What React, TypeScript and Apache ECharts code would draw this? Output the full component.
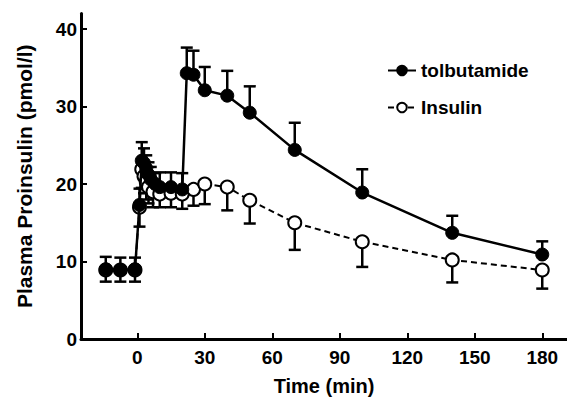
import React, { useEffect, useRef } from "react";
import * as echarts from "echarts";

// Tolbutamide (filled circles): time, mean, upper error bar end
const tolbTime = [-14, -7.5, -1, 1, 2, 3, 4, 5, 6, 8, 10, 15, 20, 22, 25, 30, 40, 50, 70, 100, 140, 180];
const tolbMean = [9.0, 8.9, 9.0, 17.3, 23.0, 22.7, 22.0, 21.2, 20.6, 20.0, 19.6, 19.6, 19.3, 34.3, 34.1, 32.1, 31.4, 29.2, 24.4, 18.9, 13.7, 10.9];
const tolbUpper = [10.6, 10.5, 10.5, 19.4, 25.4, 24.6, 23.7, 22.8, 22.2, 21.4, 21.5, 21.5, 21.4, 37.6, 37.2, 35.1, 34.6, 32.6, 27.9, 21.9, 15.9, 12.6];

// Insulin (open circles): time, mean, lower error bar end
const insTime = [-14, -7.5, -1, 1, 2, 3, 4, 5, 7, 10, 15, 20, 25, 30, 40, 50, 70, 100, 140, 180];
const insMean = [8.9, 8.9, 8.9, 17.0, 21.9, 21.0, 20.3, 19.6, 19.0, 18.7, 18.8, 18.7, 19.3, 20.0, 19.6, 17.9, 15.0, 12.55, 10.2, 8.9];
const insLower = [7.4, 7.4, 7.4, 14.5, 19.5, 18.8, 18.0, 17.5, 17.0, 17.0, 17.0, 16.8, 17.2, 17.4, 16.6, 14.9, 11.5, 9.3, 7.3, 6.5];

const xTicks = [0, 30, 60, 90, 120, 150, 180];
const yTicks = [0, 10, 20, 30, 40];

const FONT = "Liberation Sans";

export default function App() {
  const ref = useRef<HTMLDivElement>(null);
  useEffect(() => {
    if (!ref.current) return;
    const chart = echarts.init(ref.current, undefined, { renderer: "svg" });

    const errRender = (params: any, api: any) => {
      const x = api.value(0);
      const m = api.value(1);
      const e = api.value(2);
      const p1 = api.coord([x, m]);
      const p2 = api.coord([x, e]);
      const cap = 6;
      return {
        type: "group",
        children: [
          { type: "line", shape: { x1: p1[0], y1: p1[1], x2: p2[0], y2: p2[1] }, style: { stroke: "#000", lineWidth: 2.5 } },
          { type: "line", shape: { x1: p2[0] - cap, y1: p2[1], x2: p2[0] + cap, y2: p2[1] }, style: { stroke: "#000", lineWidth: 2.5 } },
        ],
      };
    };

    const option: any = {
      animation: false,
      backgroundColor: "#fff",
      grid: { left: 81, right: 0, top: 13.5, bottom: 61, containLabel: false, outerBoundsMode: "none" },
      legend: {
        orient: "vertical",
        left: 382,
        top: 56,
        itemWidth: 28,
        itemHeight: 12,
        itemGap: 18,
        data: ["tolbutamide", "Insulin"],
        textStyle: { fontFamily: FONT, fontWeight: "bold", fontSize: 19, color: "#000" },
      },
      xAxis: {
        type: "value",
        min: -25,
        max: 191,
        name: "Time (min)",
        nameLocation: "middle",
        nameGap: 37,
        nameTextStyle: { fontFamily: FONT, fontWeight: "bold", fontSize: 20, color: "#000" },
        axisLine: { show: true, onZero: false, lineStyle: { color: "#000", width: 3 } },
        axisTick: { show: true, inside: true, length: 6, customValues: xTicks, lineStyle: { color: "#000", width: 2 } },
        axisLabel: { customValues: xTicks, margin: 9, fontFamily: FONT, fontWeight: "bold", fontSize: 19, color: "#000" },
        splitLine: { show: false },
      },
      yAxis: {
        type: "value",
        min: 0,
        max: 42,
        name: "Plasma Proinsulin (pmol/l)",
        nameLocation: "middle",
        nameGap: 46,
        nameRotate: 90,
        nameTextStyle: { fontFamily: FONT, fontWeight: "bold", fontSize: 21, color: "#000" },
        axisLine: { show: true, onZero: false, lineStyle: { color: "#000", width: 3 } },
        axisTick: { show: true, inside: true, length: 6, customValues: yTicks, lineStyle: { color: "#000", width: 2 } },
        axisLabel: { customValues: yTicks, margin: 4, fontFamily: FONT, fontWeight: "bold", fontSize: 19, color: "#000" },
        splitLine: { show: false },
      },
      series: [
        {
          type: "custom",
          name: "insErr",
          renderItem: errRender,
          data: insTime.map((t, i) => [t, insMean[i], insLower[i]]),
          encode: { x: 0, y: [1, 2] },
          z: 1,
          silent: true,
        },
        {
          type: "custom",
          name: "tolbErr",
          renderItem: errRender,
          data: tolbTime.map((t, i) => [t, tolbMean[i], tolbUpper[i]]),
          encode: { x: 0, y: [1, 2] },
          z: 1,
          silent: true,
        },
        {
          type: "line",
          name: "Insulin",
          data: insTime.map((t, i) => [t, insMean[i]]),
          symbol: "circle",
          symbolSize: 13,
          lineStyle: { color: "#000", width: 2, type: [6, 4] },
          itemStyle: { color: "#fff", borderColor: "#000", borderWidth: 2 },
          z: 2,
        },
        {
          type: "line",
          name: "tolbutamide",
          data: tolbTime.map((t, i) => [t, tolbMean[i]]),
          symbol: "circle",
          symbolSize: 13,
          lineStyle: { color: "#000", width: 2.5 },
          itemStyle: { color: "#000", borderColor: "#000", borderWidth: 1 },
          z: 3,
        },
      ],
    };
    chart.setOption(option);
    return () => chart.dispose();
  }, []);
  return <div ref={ref} style={{ position: "fixed", left: 0, top: 0, width: 567, height: 400 }} />;
}
